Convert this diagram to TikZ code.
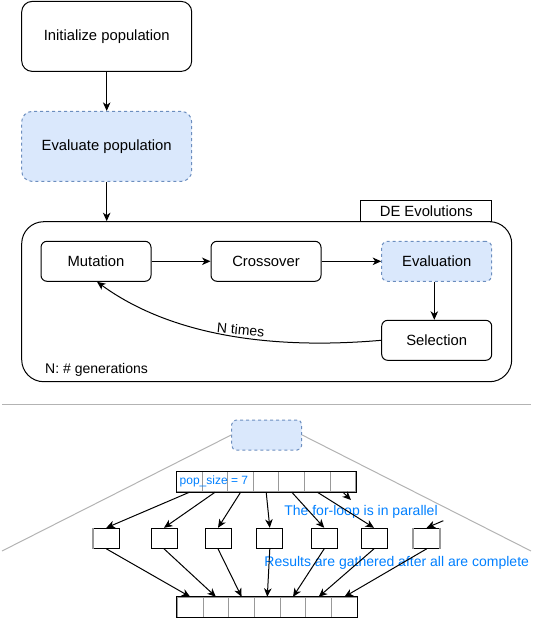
\documentclass[tikz,border=0pt]{standalone}
\usepackage{fontspec}
\setmainfont{Liberation Sans}
\usetikzlibrary{arrows.meta}
\definecolor{bfill}{HTML}{DAE8FC}
\definecolor{bstroke}{HTML}{6C8EBF}
\definecolor{btext}{HTML}{007FFF}
\definecolor{sepgray}{HTML}{B3B3B3}
\definecolor{cellgray}{HTML}{999999}
\begin{document}
\begin{tikzpicture}[x=1pt,y=-1pt,
  mainfont/.style={font=\fontsize{14.8}{17}\selectfont},
  bigbox/.style={draw, line width=1pt, rounded corners=10.5pt, minimum width=170pt, minimum height=70pt, inner sep=0pt, mainfont},
  stepbox/.style={draw, line width=1pt, rounded corners=6pt, minimum width=110pt, minimum height=40pt, inner sep=0pt, mainfont},
  bluebox/.style={fill=bfill, draw=bstroke, dash pattern=on 3pt off 3pt},
  arr/.style={-{Stealth[length=8.5pt,width=7.5pt,inset=2.5pt]}, line width=1pt},
  cell/.style={draw=cellgray, line width=1pt, minimum height=20pt, inner sep=0pt},
  smallbox/.style={draw, line width=1pt, minimum width=26pt, minimum height=20pt, inner sep=0pt},
  bluelabel/.style={text=btext, inner sep=0pt, font=\fontsize{14}{16}\selectfont},
  sep/.style={draw=sepgray, line width=1pt}
]
\useasboundingbox (0,0) rectangle (539,621);

% top flow
\node[bigbox] (init) at (106.7,36.4) {Initialize population};
\node[bigbox,bluebox] (evalpop) at (106.7,146.4) {Evaluate population};
\draw[arr] (init) -- (evalpop);

% DE container
\node[draw, line width=1pt, rounded corners=22pt, minimum width=490pt, minimum height=160pt, inner sep=0pt] (de) at (266.7,301.7) {};
\node[draw, line width=1pt, minimum width=130.7pt, minimum height=20.7pt, inner sep=0pt, anchor=south, mainfont] (delabel) at (426.3,221.7) {DE Evolutions};
\draw[arr] (evalpop.south) -- (evalpop.south |- de.north);

\node[stepbox] (mut) at (96,261.3) {Mutation};
\node[stepbox] (cross) at (266,261.3) {Crossover};
\node[stepbox,bluebox] (evalu) at (436.7,261.3) {Evaluation};
\node[stepbox] (sel) at (436.7,340.3) {Selection};

\draw[arr] (mut) -- (cross);
\draw[arr] (cross) -- (evalu);
\draw[arr] ([xshift=-2.4pt]evalu.south) -- ([xshift=-2.4pt]evalu.south |- sel.north);
\draw[arr] (sel.west) .. controls (270,350) and (170,335) .. ([xshift=1pt]mut.south);
\node[rotate=-5, inner sep=0pt, font=\fontsize{14}{16}\selectfont] (ntimes) at (240.7,329.8) {N times};
\node[anchor=west, inner sep=0pt, font=\fontsize{14}{16}\selectfont] (ngen) at (45,370) {N: \# generations};

% separator
\coordinate (sepl) at (2,404.3);
\coordinate (sepr) at (531,404.3);
\draw[sep] (sepl) -- (sepr);

% zoomed part
\node[bluebox, line width=1pt, rounded corners=4.5pt, minimum width=70pt, minimum height=30pt, inner sep=0pt] (sm) at (266.7,435) {};
\coordinate (ll) at (2,551);
\coordinate (rl) at (531,551);
\draw[sep] (sm.west) -- (ll);
\draw[sep] (sm.east) -- (rl);

% top array
\foreach \i in {1,...,7}
  \node[cell, minimum width=25.57pt] (t\i) at ({176.7+25.571*(\i-0.5)},481.7) {};
\draw[line width=1pt] (t1.north west) rectangle (t7.south east);
\node[anchor=west, inner sep=0pt, text=btext, font=\fontsize{12}{14}\selectfont] (ps) at (179.5,481.7) {pop\_size = 7};

% middle boxes
\foreach \i/\x in {1/106.3,2/164,3/218,4/269.8,5/324.2,6/374,7/426.7}
  \node[smallbox] (m\i) at (\x,538.3) {};
\draw[cellgray, line width=1.5pt] (m1.north west) -- (m1.south west);
\draw[cellgray, line width=1.5pt] (m7.north west) -- (m7.south west);
\draw[cellgray, line width=1.5pt] (m7.north east) -- (m7.south east);

% bottom array
\foreach \i in {1,...,7}
  \node[cell, minimum width=25.71pt] (b\i) at ({177.3+25.714*(\i-0.5)},607.3) {};
\draw[line width=1pt] (b1.north west) rectangle (b7.south east);

% labels
\node[bluelabel] (par) at (361,511.7) {The for-loop is in parallel};
\node[bluelabel] (res) at (396.7,562.7) {Results are gathered after all are complete};

% arrows
\foreach \i in {1,...,6}
  \draw[arr] (t\i.south) -- (m\i.north);
\coordinate (c7a) at (351,500);
\coordinate (c7b) at (443.3,520.7);
\draw[arr] (t7.south) -- (c7a);
\draw[arr] (c7b) -- (m7.north);
\foreach \i in {1,...,7}
  \draw[arr] (m\i.south) -- (b\i.north);
\end{tikzpicture}
\end{document}
